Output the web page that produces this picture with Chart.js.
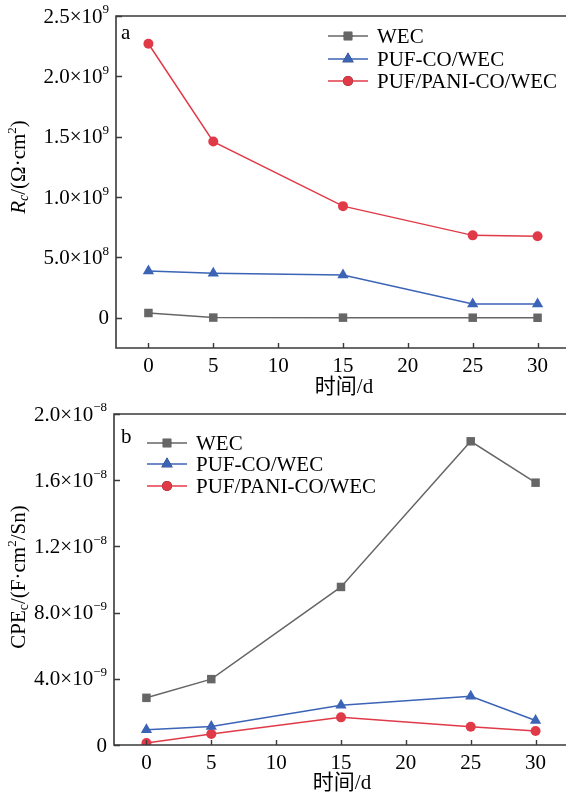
<!DOCTYPE html>
<html><head><meta charset="utf-8">
<script src="https://cdn.jsdelivr.net/npm/chart.js@4"></script>
<style>
html,body{margin:0;padding:0;background:#fff;overflow:hidden}
#wrap{position:relative;width:566px;height:796px;overflow:hidden;background:#fff}
canvas{position:absolute;left:0}
</style></head><body>
<div id="wrap">
<canvas id="ca" width="580" height="400" style="top:0;width:580px;height:400px"></canvas>
<canvas id="cb" width="580" height="396" style="top:400px;width:580px;height:396px"></canvas>
</div>
<script>
// ---- data ----
const days = [0, 5, 15, 25, 30];
const seriesNames = ['WEC', 'PUF-CO/WEC', 'PUF/PANI-CO/WEC'];
// panel a: Rc (Ω·cm²)
const rcWEC     = [4.0e7, 2.0e6, 1.5e6, 1.0e6, 0.5e6];
const rcPUFCO   = [3.88e8, 3.70e8, 3.55e8, 1.15e8, 1.15e8];
const rcPUFPANI = [2.27e9, 1.46e9, 9.25e8, 6.83e8, 6.75e8];
// panel b: CPEc
const cpeWEC     = [2.85e-9, 3.98e-9, 9.55e-9, 1.835e-8, 1.585e-8];
const cpePUFCO   = [0.92e-9, 1.12e-9, 2.40e-9, 2.95e-9, 1.48e-9];
const cpePUFPANI = [0.12e-9, 0.67e-9, 1.67e-9, 1.10e-9, 0.85e-9];
// ticks
const xTicks = [0, 5, 10, 15, 20, 25, 30];
const yTicksA = [0, 5e8, 1e9, 1.5e9, 2e9, 2.5e9];
const yMantA = ['0', '5.0', '1.0', '1.5', '2.0', '2.5'];
const yExpA  = ['', '8', '9', '9', '9', '9'];
const yTicksB = [0, 4e-9, 8e-9, 1.2e-8, 1.6e-8, 2e-8];
const yMantB = ['0', '4.0', '8.0', '1.2', '1.6', '2.0'];
const yExpB  = ['', '\u22129', '\u22129', '\u22128', '\u22128', '\u22128'];

// ---- styles ----
const SERIF = '"Liberation Serif","Times New Roman",serif';
const CJK = '"Liberation Serif","Noto Sans CJK SC",serif';
const colors = ['#666666', '#3b63b6', '#e03a48'];
const pStyles = ['rect', 'triangle', 'circle'];
const pRadius = [6, 6.5, 5];
const AXIS = '#3a3a3a';

function mkDatasets(arrs) {
  return arrs.map((a, i) => ({
    label: seriesNames[i],
    data: days.map((d, j) => ({x: d, y: a[j]})),
    borderColor: colors[i], backgroundColor: colors[i],
    pointBackgroundColor: colors[i], pointBorderColor: colors[i],
    pointStyle: pStyles[i], pointRadius: pRadius[i], pointBorderWidth: 0,
    borderWidth: 1.5, tension: 0
  }));
}

function decoPlugin(cfg) {
  return {
    id: 'deco',
    afterDraw(chart) {
      const ctx = chart.ctx, ca = chart.chartArea;
      const xs = chart.scales.x, ys = chart.scales.y;
      ctx.save();
      // frame: left, bottom, top
      ctx.strokeStyle = AXIS; ctx.lineWidth = 1.6;
      ctx.beginPath();
      ctx.moveTo(ca.right + 5, ca.top); ctx.lineTo(ca.left, ca.top);
      ctx.lineTo(ca.left, ca.bottom); ctx.lineTo(ca.right + 5, ca.bottom);
      ctx.stroke();
      // inward ticks
      ctx.lineWidth = 1.4;
      ctx.beginPath();
      xTicks.forEach(v => { const px = Math.round(xs.getPixelForValue(v)) + 0.5; ctx.moveTo(px, ca.bottom); ctx.lineTo(px, ca.bottom - 5); });
      cfg.yTicks.forEach(v => { const py = Math.round(ys.getPixelForValue(v)) + 0.5; ctx.moveTo(ca.left, py); ctx.lineTo(ca.left + 6, py); });
      ctx.stroke();
      // y tick labels with superscript exponents
      ctx.fillStyle = '#000';
      ctx.textBaseline = 'middle';
      cfg.yTicks.forEach((v, i) => {
        const py = ys.getPixelForValue(v);
        const right = ca.left - 7;
        const m = cfg.mant[i], e = cfg.exp[i];
        if (!e) {
          ctx.font = '21px ' + SERIF; ctx.textAlign = 'right';
          ctx.fillText(m, right, py + 1);
          return;
        }
        ctx.font = '13px ' + SERIF;
        const ew = ctx.measureText(e).width;
        ctx.font = '21px ' + SERIF;
        const base = m + '\u00d710';
        const bw = ctx.measureText(base).width;
        ctx.textAlign = 'left';
        ctx.fillText(base, right - ew - bw, py + 1);
        ctx.font = '13px ' + SERIF;
        ctx.fillText(e, right - ew, py - 6);
      });
      // x title
      ctx.font = '21px ' + CJK; ctx.textAlign = 'center'; ctx.textBaseline = 'middle';
      ctx.fillText('时间/d', cfg.xTitleX, cfg.xTitleY);
      // panel letter
      ctx.font = '21px ' + SERIF; ctx.textAlign = 'left';
      ctx.fillText(cfg.letter, cfg.letterX, cfg.letterY);
      // y title (rotated, rich)
      ctx.save();
      ctx.translate(cfg.yTitleX, cfg.yTitleY);
      ctx.rotate(-Math.PI / 2);
      const parts = cfg.yTitle;
      let total = 0;
      parts.forEach(p => { ctx.font = p.font; p.w = ctx.measureText(p.t).width; total += p.w; });
      let x0 = -total / 2;
      ctx.textAlign = 'left'; ctx.textBaseline = 'middle';
      parts.forEach(p => { ctx.font = p.font; ctx.fillText(p.t, x0, p.dy || 0); x0 += p.w; });
      ctx.restore();
      // legend
      chart.data.datasets.forEach((ds, i) => {
        const y = cfg.legY[i];
        ctx.strokeStyle = ds.borderColor; ctx.lineWidth = 1.5;
        ctx.beginPath(); ctx.moveTo(cfg.legX, y); ctx.lineTo(cfg.legX + 40, y); ctx.stroke();
        Chart.helpers.drawPoint(ctx, {pointStyle: ds.pointStyle, radius: ds.pointRadius, borderWidth: 0, rotation: 0}, cfg.legX + 20, y);
        ctx.fillStyle = ds.backgroundColor;
        ctx.fill();
        ctx.fillStyle = '#000';
        ctx.font = '21px ' + SERIF; ctx.textAlign = 'left'; ctx.textBaseline = 'middle';
        ctx.fillText(ds.label, cfg.legX + 49, y + 1);
      });
      ctx.restore();
    }
  };
}

function makeChart(id, arrs, cfg) {
  return new Chart(document.getElementById(id), {
    type: 'line',
    data: {datasets: mkDatasets(arrs)},
    options: {
      responsive: false, animation: false, devicePixelRatio: 1,
      layout: {padding: {left: 0, right: cfg.padR, top: cfg.padT, bottom: 0}},
      plugins: {legend: {display: false}, tooltip: {enabled: false}},
      scales: {
        x: {
          type: 'linear', min: -2.5, max: 32.5,
          afterBuildTicks: s => { s.ticks = xTicks.map(v => ({value: v})); },
          afterFit: s => { s.height = cfg.xH; },
          grid: {display: false, drawTicks: false}, border: {display: false},
          ticks: {color: '#000', font: {family: SERIF, size: 21}, padding: 6, maxRotation: 0}
        },
        y: {
          type: 'linear', min: cfg.yMin, max: cfg.yMax,
          afterBuildTicks: s => { s.ticks = cfg.yTicks.map(v => ({value: v})); },
          afterFit: s => { s.width = cfg.yW; },
          grid: {display: false, drawTicks: false}, border: {display: false},
          ticks: {display: false}
        }
      }
    },
    plugins: [decoPlugin(cfg)]
  });
}

makeChart('ca', [rcWEC, rcPUFCO, rcPUFPANI], {
  padR: 10, padT: 16, xH: 52, yW: 116, yMin: -2.5e8, yMax: 2.5e9,
  yTicks: yTicksA, mant: yMantA, exp: yExpA,
  xTitleX: 344, xTitleY: 387, letter: 'a', letterX: 121, letterY: 33,
  yTitleX: 19, yTitleY: 167,
  yTitle: [
    {t: 'R', font: 'italic 21px ' + SERIF},
    {t: 'c', font: 'italic 14px ' + SERIF, dy: 5},
    {t: '/(\u03a9\u00b7cm', font: '21px ' + SERIF},
    {t: '2', font: '13px ' + SERIF, dy: -6},
    {t: ')', font: '21px ' + SERIF}
  ],
  legX: 328, legY: [36, 59, 81]
});

makeChart('cb', [cpeWEC, cpePUFCO, cpePUFPANI], {
  padR: 12, padT: 14, xH: 51, yW: 114, yMin: 0, yMax: 2e-8,
  yTicks: yTicksB, mant: yMantB, exp: yExpB,
  xTitleX: 342, xTitleY: 383, letter: 'b', letterX: 121, letterY: 37,
  yTitleX: 19, yTitleY: 177,
  yTitle: [
    {t: 'CPE', font: '21px ' + SERIF},
    {t: 'c', font: '14px ' + SERIF, dy: 5},
    {t: '/(F\u00b7cm', font: '21px ' + SERIF},
    {t: '2', font: '13px ' + SERIF, dy: -6},
    {t: '/Sn)', font: '21px ' + SERIF}
  ],
  legX: 147, legY: [43, 64, 86]
});
</script>
</body></html>
